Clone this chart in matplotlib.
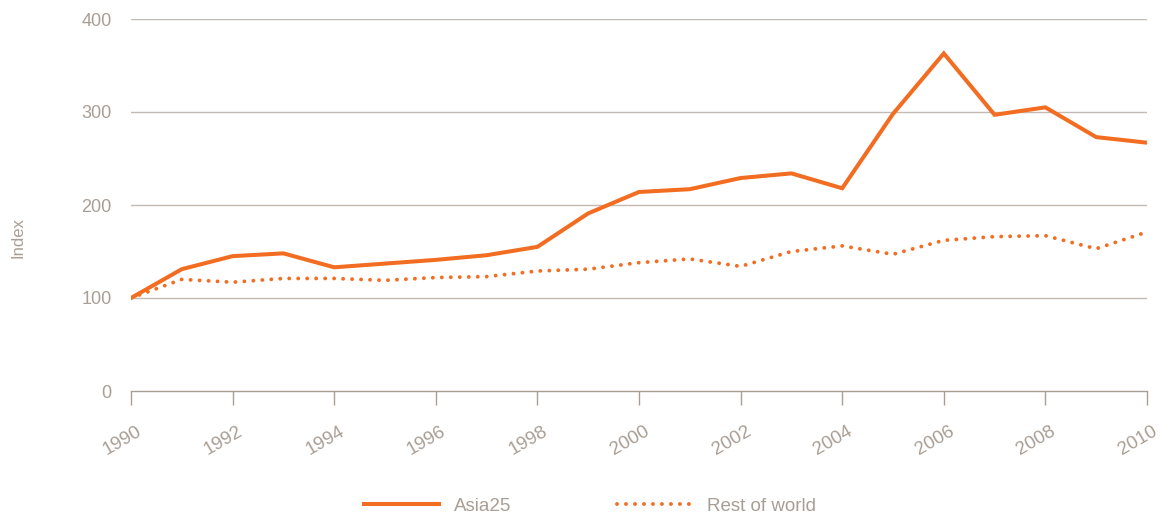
import matplotlib
matplotlib.use("Agg")
import matplotlib.pyplot as plt
import matplotlib.transforms as mtransforms

years = list(range(1990, 2011))
asia25 = [100, 131, 145, 148, 133, 137, 141, 146, 155, 191, 214, 217, 229, 234, 218,
          298, 363, 297, 305, 273, 267]
rest_of_world = [100, 120, 117, 121, 121, 119, 122, 123, 129, 131, 138, 142, 134, 150, 156,
                 147, 162, 166, 167, 153, 171]
x_ticks = list(range(1990, 2011, 2))
y_ticks = [0, 100, 200, 300, 400]

ORANGE = "#F26D21"
GREY_TEXT = "#A99E94"
GRID = "#C2BAB3"

plt.rcParams["font.family"] = ["Liberation Sans", "DejaVu Sans"]

fig = plt.figure(figsize=(11.61, 5.13), dpi=100)
ax = fig.add_axes([131 / 1161, 1 - 391 / 513, (1147 - 131) / 1161, (391 - 19) / 513])

for y in y_ticks[1:]:
    ax.axhline(y, color=GRID, linewidth=1.0, zorder=1)

ax.plot(years, asia25, color=ORANGE, linewidth=2.9, solid_joinstyle="miter",
        label="Asia25", zorder=3)
ax.plot(years, rest_of_world, color=ORANGE, linewidth=2.8,
        linestyle=(0, (0.01, 2.3)), dash_capstyle="round", label="Rest of world", zorder=3)

ax.set_xlim(1990, 2010)
ax.set_ylim(0, 400)
ax.set_xticks(x_ticks)
ax.set_yticks(y_ticks)

for side in ["left", "right", "top"]:
    ax.spines[side].set_visible(False)
ax.spines["bottom"].set_color(GREY_TEXT)
ax.spines["bottom"].set_linewidth(1.0)

ax.tick_params(axis="y", length=0, pad=14, labelsize=13, labelcolor=GREY_TEXT)
ax.tick_params(axis="x", length=10, width=1.0, color=GREY_TEXT, pad=13,
               labelsize=13.5, labelcolor=GREY_TEXT)

offset = mtransforms.ScaledTranslation(-9 / 100, 0, fig.dpi_scale_trans)
for lbl in ax.get_xticklabels():
    lbl.set_rotation(30)
    lbl.set_ha("center")
    lbl.set_transform(lbl.get_transform() + offset)

fig.text(18 / 1161, 1 - 238 / 513, "Index", rotation=90, ha="center", va="center",
         fontsize=12, color=GREY_TEXT)

leg = fig.legend(loc="center", bbox_to_anchor=(590 / 1161, 1 - 506 / 513), ncol=2,
                 frameon=False, fontsize=13.5, handlelength=4.0, columnspacing=5.6,
                 handletextpad=0.8)
for text in leg.get_texts():
    text.set_color(GREY_TEXT)

fig.savefig("out.png", dpi=100)
